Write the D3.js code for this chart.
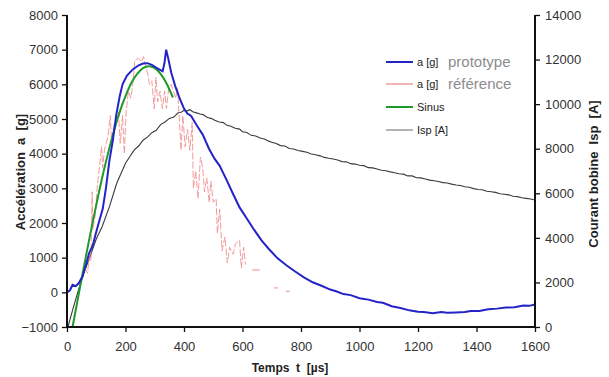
<!DOCTYPE html>
<html><head><meta charset="utf-8">
<script src="https://cdn.jsdelivr.net/npm/d3@7"></script>
<style>
html,body{margin:0;padding:0;background:#fff;}
svg{display:block;}
text{font-family:"Liberation Sans",Arial,sans-serif;}
</style></head>
<body>
<svg id="chart" width="609" height="377"></svg>
<script>
// ---- data ----
const xTicks = [0,200,400,600,800,1000,1200,1400,1600];
const yLeftTicks = [-1000,0,1000,2000,3000,4000,5000,6000,7000,8000];
const yRightTicks = [0,2000,4000,6000,8000,10000,12000,14000];

// a [g] prototype (blue)
const blueT = [0,10,19,30,40,53,65,76,88,99,110,122,133,145,157,168,180,190,205,225,245,260,275,290,305,318,327,333,339,346,356,370,385,400,412,419,425,432,445,464,485,505,522,545,567,590,613,640,665,690,720,750,780,810,840,870,900,920,945,970,1000,1030,1060,1080,1110,1140,1170,1200,1220,1250,1280,1300,1330,1360,1380,1410,1440,1470,1500,1530,1560,1580,1600];
const blueA = [0,60,220,180,260,460,800,1140,1350,1710,2050,2400,3000,3800,4400,5100,5650,6000,6250,6430,6550,6600,6610,6560,6480,6420,6380,6600,7000,6750,6350,5950,5600,5300,5150,5120,5080,4980,4800,4550,4150,3850,3650,3250,2850,2450,2150,1800,1500,1250,980,780,600,430,290,190,80,30,-50,-80,-170,-210,-280,-300,-400,-450,-520,-560,-570,-600,-570,-590,-580,-570,-540,-540,-490,-470,-440,-430,-380,-390,-350];

// a [g] référence (red, noisy)
const redT = [62,70,76,82,86,88,96,104,112,118,122,128,140,148,152,160,168,176,182,190,196,202,210,218,225,232,245,255,262,270,276,282,290,298,304,310,318,326,334,340,348,356,364,372,378,384,390,396,404,412,420,428,432,440,448,456,464,470,478,486,492,500,510,514,522,530,540,548,556,568,576,590,596,604,610];
const redA = [700,550,1000,900,2900,1800,2200,3100,3700,4200,3600,4100,4500,5100,4400,4800,5000,5200,4300,5100,4000,5200,5800,5600,6000,6700,6750,6650,6800,6500,6300,6000,6100,5300,6200,5500,5800,5300,5800,5300,5900,6000,5800,5600,5900,5000,4100,5100,4200,4700,4100,4900,3000,3500,2700,3900,3600,2900,3300,2600,3200,2600,2700,1700,2400,1200,1600,850,1300,1100,1400,1500,700,1300,800];
const redDotT = [640,652,715,755];
const redDotA = [650,650,130,30];

// Sinus (green)
const greenT = [19,42,60,80,100,120,140,160,180,200,220,240,260,280,300,320,340,362];
const greenA = [-1000,40,830,1700,2520,3300,4000,4640,5200,5660,6040,6300,6470,6520,6470,6300,6030,5620];

// Isp [A] (black, right axis)
const ispT = [3,20,40,60,80,100,120,145,170,200,215,230,245,260,275,290,305,320,335,350,365,380,390,400,410,420,430,440,455,465,480,495,505,520,535,545,560,575,590,600,615,630,645,660,675,690,700,715,730,745,760,775,790,805,820,835,850,865,880,895,910,925,940,955,970,985,1000,1015,1030,1045,1060,1075,1090,1105,1120,1135,1150,1165,1180,1195,1210,1225,1240,1255,1270,1285,1300,1315,1330,1345,1360,1375,1390,1405,1420,1435,1450,1465,1480,1495,1510,1525,1540,1555,1570,1585,1600];
const ispI = [0,800,1700,2500,3200,3950,4500,5400,6450,7350,7650,7950,8120,8380,8520,8720,8830,9080,9200,9360,9420,9610,9640,9720,9690,9750,9660,9620,9560,9530,9400,9350,9280,9200,9170,9060,9010,8920,8880,8760,8730,8600,8570,8480,8440,8340,8290,8230,8140,8120,8010,7990,7920,7880,7840,7760,7730,7680,7610,7570,7540,7490,7420,7410,7330,7310,7260,7240,7150,7140,7090,7030,7010,6960,6920,6880,6860,6780,6780,6700,6690,6640,6590,6560,6530,6480,6460,6410,6370,6350,6290,6270,6210,6170,6160,6090,6070,6040,5980,5960,5930,5870,5850,5800,5770,5740,5700];

const legendLabels = ["a [g]","a [g]","Sinus","Isp [A]"];
const legendExtra = ["prototype","référence","",""];
const legendColors = ["#2323c8","#f08c8c","#1f9a2a","#8a8a8a"];

// ---- layout ----
const svg = d3.select("#chart");
const X0 = 67, X1 = 535, YT = 15, YB = 327;
const x = d3.scaleLinear().domain([0,1600]).range([X0,X1]);
const yL = d3.scaleLinear().domain([-1000,8000]).range([YB,YT]);
const yR = d3.scaleLinear().domain([0,14000]).range([YB,YT]);

const line = (ys) => d3.line().x(d=>x(d[0])).y(d=>ys(d[1]));
const zip = (a,b) => a.map((v,i)=>[v,b[i]]);

svg.append("path").datum(zip(ispT,ispI)).attr("d",line(yR))
  .attr("fill","none").attr("stroke","#3a3a3a").attr("stroke-width",1.1);
svg.append("path").datum(zip(redT,redA)).attr("d",line(yL))
  .attr("fill","none").attr("stroke","#f08c8c").attr("stroke-width",1)
  .attr("stroke-dasharray","7,2").attr("opacity",0.85);
svg.selectAll("rect.rd").data(zip(redDotT,redDotA)).enter().append("rect")
  .attr("x",d=>x(d[0])-2).attr("y",d=>yL(d[1])-0.5).attr("width",4).attr("height",1.2)
  .attr("fill","#f4a0a0");
svg.append("path").datum(zip(greenT,greenA)).attr("d",d3.line().curve(d3.curveMonotoneX).x(d=>x(d[0])).y(d=>yL(d[1])))
  .attr("fill","none").attr("stroke","#1f9a2a").attr("stroke-width",2);
svg.append("path").datum(zip(blueT,blueA)).attr("d",line(yL))
  .attr("fill","none").attr("stroke","#2323c8").attr("stroke-width",2);

// axes
const fs = "13px";
const gL = svg.append("g").attr("transform",`translate(${X0},0)`)
  .call(d3.axisLeft(yL).tickValues(yLeftTicks).tickSize(5).tickPadding(4).tickFormat(d3.format("d")));
const gB = svg.append("g").attr("transform",`translate(0,${YB})`)
  .call(d3.axisBottom(x).tickValues(xTicks).tickSize(5).tickPadding(10).tickFormat(d3.format("d")));
const gR = svg.append("g").attr("transform",`translate(${X1},0)`)
  .call(d3.axisRight(yR).tickValues(yRightTicks).tickSize(5).tickPadding(5).tickFormat(d3.format("d")));
[gL,gB,gR].forEach(g=>{
  g.select(".domain").attr("stroke","#111").attr("stroke-width",2);
  g.selectAll(".tick line").attr("stroke","#111").attr("stroke-width",1.3);
  g.selectAll(".tick text").attr("font-size",fs).attr("fill","#333")
   .attr("font-family","'Liberation Sans',Arial,sans-serif");
});
gB.select(".domain").attr("d",`M${X0},0H${X1}`);
gL.select(".domain").attr("d",`M0,${YT}V${YB}`);
gR.select(".domain").attr("d",`M0,${YT}V${YB}`);

// axis titles
svg.append("text").attr("x",290).attr("y",372).attr("text-anchor","middle")
  .attr("font-size","12px").attr("font-weight","bold").attr("fill","#222")
  .style("white-space","pre").text("Temps  t  [µs]");
svg.append("text").attr("transform","translate(25,172) rotate(-90)").attr("text-anchor","middle")
  .attr("font-size","13px").attr("font-weight","bold").attr("fill","#222")
  .style("white-space","pre").text("Accélération  a  [g]");
svg.append("text").attr("transform","translate(598,174) rotate(-90)").attr("text-anchor","middle")
  .attr("font-size","13px").attr("font-weight","bold").attr("fill","#222")
  .style("white-space","pre").text("Courant bobine  Isp  [A]");

// legend
const legY = [62,84,107,130];
const lg = svg.append("g");
legendLabels.forEach((lab,i)=>{
  lg.append("line").attr("x1",386).attr("x2",413).attr("y1",legY[i]).attr("y2",legY[i])
    .attr("stroke",legendColors[i]).attr("stroke-width", i===0||i===2 ? 2 : 1.3);
  lg.append("text").attr("x",417).attr("y",legY[i]+4).attr("font-size","11px").attr("fill","#222").text(lab);
  if (legendExtra[i]) {
    lg.append("text").attr("x",448).attr("y",legY[i]+5).attr("font-size","15px")
      .attr("font-family","Lato,'Open Sans',sans-serif").attr("fill","#8c8c8c").text(legendExtra[i]);
  }
});
</script>
</body></html>
